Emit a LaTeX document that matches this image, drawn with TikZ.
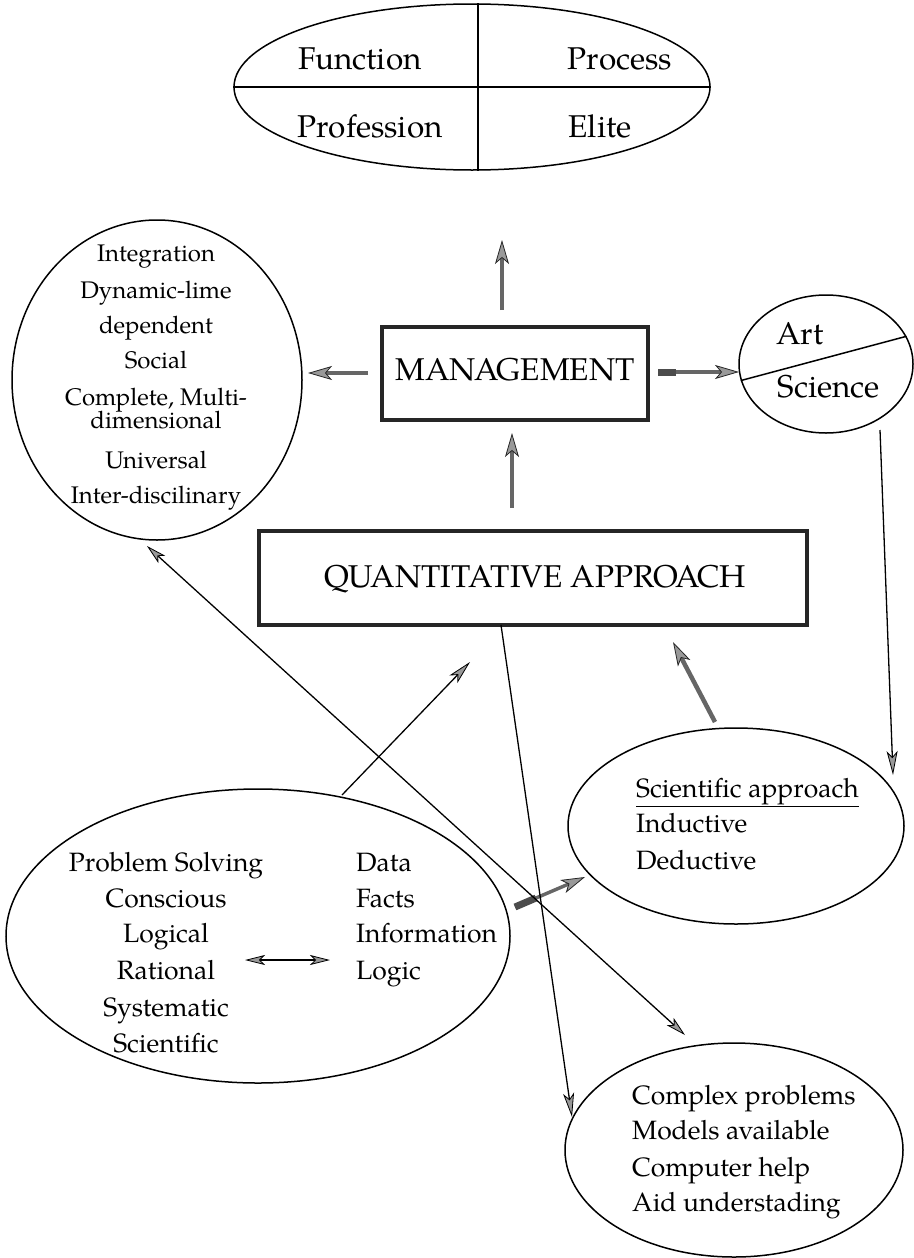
\documentclass[tikz,border=0pt]{standalone}
\usepackage{fontspec}
\setmainfont{texgyrepagella-regular.otf}
\usetikzlibrary{shapes.geometric,arrows.meta,calc}

\begin{document}
\begin{tikzpicture}[x=1pt,y=-1pt,
  oval/.style={draw,ellipse,line width=1.5,inner sep=0},
  framebox/.style={draw=black!85,line width=3.5,inner sep=0},
  bigtxt/.style={font=\fontsize{31.5}{36}\selectfont,inner sep=0,text height=21.7pt,text depth=0pt},
  midtxt/.style={font=\fontsize{26.5}{32}\selectfont,inner sep=0,text height=18.3pt,text depth=0pt},
  smalltxt/.style={font=\fontsize{24}{28}\selectfont,inner sep=0,text height=16.6pt,text depth=0pt},
  grayarrow/.style={draw=black!60,line width=4.5,
    -{Stealth[length=24,width=14,inset=6,line width=0.8,fill=black!40,color=black!85]}},
  fletch/.style={draw=black!70,line width=7},
  thinarrow/.style={draw=black,line width=1.3,
    -{Stealth[length=24,width=11,inset=6,line width=0.8,fill=black!40,color=black]}},
  thinboth/.style={draw=black,line width=1.3,
    {Stealth[length=20,width=10,inset=5,line width=0.8,fill=black!40,color=black]}-{Stealth[length=20,width=10,inset=5,line width=0.8,fill=black!40,color=black]}},
]
\useasboundingbox (0,0) rectangle (913,1258);

% ---- four views of management
\node[oval,minimum width=476,minimum height=166] (views) at (472,87) {};
\draw[line width=1.3] (views.west) -- (views.east);
\draw[line width=1.3] ([xshift=6]views.north) -- ([xshift=6]views.south);
\node[bigtxt] (vf) at (360,59) {Function};
\node[bigtxt] (vp) at (620,59) {Process};
\node[bigtxt] (vpr) at (370,127) {Profession};
\node[bigtxt] (ve) at (600,127) {Elite};

% ---- central boxes
\node[framebox,minimum width=266,minimum height=93] (mgmt) at (515,373.5) {};
\node[bigtxt] (mgmttxt) at (515,370) {MANAGEMENT};
\node[framebox,minimum width=548,minimum height=94] (quant) at (533,578) {};
\node[bigtxt] (quanttxt) at (535,577) {QUANTITATIVE APPROACH};

% ---- characteristics
\node[oval,minimum width=290,minimum height=320] (chars) at (157,380) {};
\node[smalltxt] (c1) at (156,253) {Integration};
\node[smalltxt] (c2) at (156,290) {Dynamic-lime};
\node[smalltxt] (c3) at (156,325) {dependent};
\node[smalltxt] (c4) at (156,360) {Social};
\node[smalltxt] (c5) at (156,397) {Complete, Multi-};
\node[smalltxt] (c6) at (156,420) {dimensional};
\node[smalltxt] (c7) at (156,460) {Universal};
\node[smalltxt] (c8) at (156,495) {Inter-discilinary};

% ---- art / science
\node[oval,minimum width=174,minimum height=138] (art) at (826,364) {};
\draw[line width=1.5] (art.191) -- (art.19);
\node[bigtxt] (arttxt) at (800,334) {Art};
\node[bigtxt] (scitxt) at (829,387) {Science};

% ---- scientific approach
\node[oval,minimum width=336,minimum height=196] (sci) at (736,826) {};
\node[midtxt,anchor=west] (s1) at (636,788) {\underline{Scientific approach}};
\node[midtxt,anchor=west] (s2) at (636,823) {Inductive};
\node[midtxt,anchor=west] (s3) at (636,860) {Deductive};

% ---- problem solving
\node[oval,minimum width=504,minimum height=294] (prob) at (258,936) {};
\node[midtxt] (p1) at (166,862) {Problem Solving};
\node[midtxt] (p2) at (166,898) {Conscious};
\node[midtxt] (p3) at (166,933) {Logical};
\node[midtxt] (p4) at (166,970) {Rational};
\node[midtxt] (p5) at (166,1007) {Systematic};
\node[midtxt] (p6) at (166,1043) {Scientific};
\node[midtxt,anchor=west] (d1) at (356,862) {Data};
\node[midtxt,anchor=west] (d2) at (356,898) {Facts};
\node[midtxt,anchor=west] (d3) at (356,933) {Information};
\node[midtxt,anchor=west] (d4) at (356,970) {Logic};

% ---- applications
\node[oval,minimum width=338,minimum height=214] (appl) at (734,1150) {};
\node[midtxt,anchor=west] (a1) at (632,1095) {Complex problems};
\node[midtxt,anchor=west] (a2) at (632,1130) {Models available};
\node[midtxt,anchor=west] (a3) at (632,1167) {Computer help};
\node[midtxt,anchor=west] (a4) at (632,1202) {Aid understading};

% ---- connector ends
\coordinate (upT) at (502,310);  \coordinate (upH) at (502,240);
\coordinate (lfT) at (368,373);  \coordinate (lfH) at (308,373);
\coordinate (rtT) at (658,372);  \coordinate (rtH) at (739,372);
\coordinate (qmT) at (512,508);  \coordinate (qmH) at (512,433);
\coordinate (asT) at (880,430);  \coordinate (asH) at (893,775);
\coordinate (sqT) at (715,722);  \coordinate (sqH) at (673,642);
\coordinate (qcT) at (501,625);  \coordinate (qcH) at (572,1117);
\coordinate (dgA) at (147,546);  \coordinate (dgB) at (685,1035);
\coordinate (pqT) at (342,795);  \coordinate (pqH) at (470,662);
\coordinate (psT) at (515,907);  \coordinate (psH) at (585,877);
\coordinate (ddA) at (245,960);  \coordinate (ddB) at (330,960);

% ---- connectors
\draw[grayarrow] (upT) -- (upH);
\draw[grayarrow] (lfT) -- (lfH);
\draw[grayarrow,line width=3.5] (rtT) -- (rtH);
\draw[fletch] (rtT) -- ($(rtT)!0.22!(rtH)$);
\draw[grayarrow] (qmT) -- (qmH);
\draw[grayarrow] (sqT) -- (sqH);
\draw[grayarrow,line width=3.5] (psT) -- (psH);
\draw[fletch] (psT) -- ($(psT)!0.3!(psH)$);
\draw[thinarrow] (asT) -- (asH);
\draw[thinarrow] (qcT) -- (qcH);
\draw[thinboth] (dgA) -- (dgB);
\draw[thinarrow] (pqT) -- (pqH);
\draw[thinboth,line width=1.6] (ddA) -- (ddB);
\end{tikzpicture}
\end{document}
